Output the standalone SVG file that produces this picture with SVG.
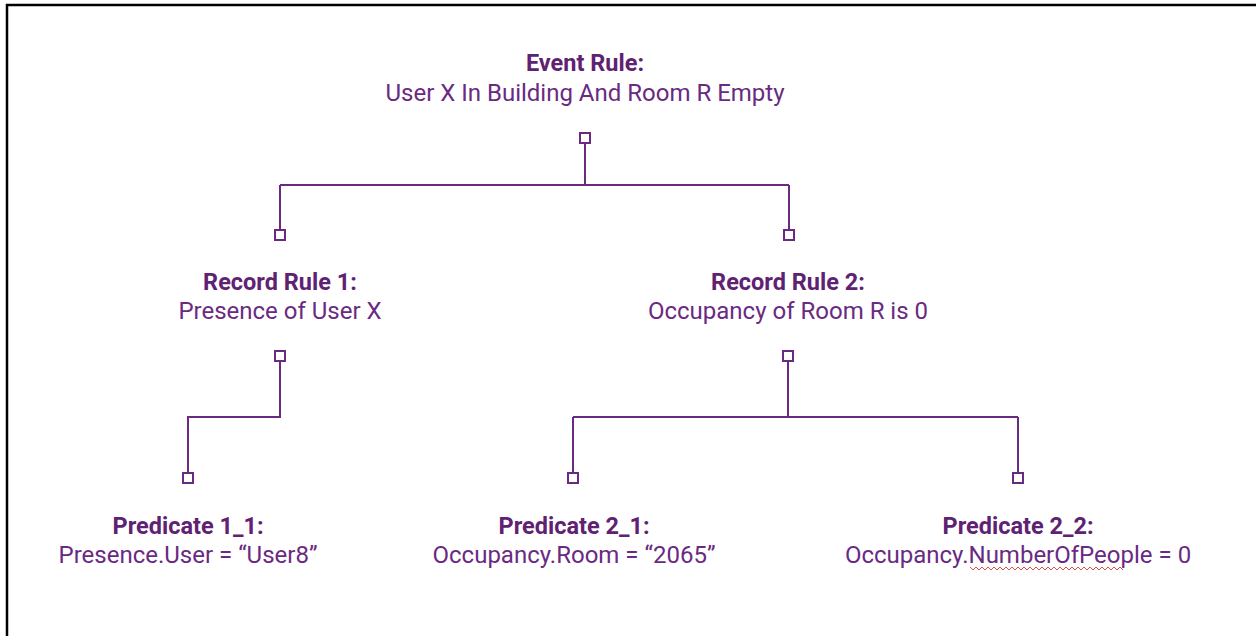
<svg xmlns="http://www.w3.org/2000/svg" width="1256" height="636" viewBox="0 0 1256 636">
<style>
.t{font-family:Roboto,"Liberation Sans",sans-serif;font-size:24px;fill:#6a2a82;text-anchor:middle}
.b{font-weight:bold;fill:#5f2272;font-size:23.5px}
.c{fill:none;stroke:#6a2a82;stroke-width:2}
.p{fill:#fff;stroke:#6a2a82;stroke-width:2}
</style>
<rect width="1256" height="636" fill="#fff"/>
<path d="M7 636V5H1256" fill="none" stroke="#000" stroke-width="2.5"/>
<g id="connectors">
<path class="c" d="M585 143V185M280 185H789M280 185V230M789 185V230"/>
<path class="c" d="M280 361V417H188V473"/>
<path class="c" d="M788 361V417M573 417H1018M573 417V473M1018 417V473"/>
</g>
<g id="event-rule">
<text class="t b" x="585" y="71">Event Rule:</text>
<text class="t" x="585" y="101">User X In Building And Room R Empty</text>
<rect class="p" x="580" y="133" width="10" height="10"/>
</g>
<g id="record-rule-1">
<rect class="p" x="275" y="230" width="10" height="10"/>
<text class="t b" x="280" y="290">Record Rule 1:</text>
<text class="t" x="280" y="319">Presence of User X</text>
<rect class="p" x="275" y="351" width="10" height="10"/>
</g>
<g id="record-rule-2">
<rect class="p" x="784" y="230" width="10" height="10"/>
<text class="t b" x="788" y="290">Record Rule 2:</text>
<text class="t" x="788" y="319">Occupancy of Room R is 0</text>
<rect class="p" x="783" y="351" width="10" height="10"/>
</g>
<g id="predicate-1-1">
<rect class="p" x="183" y="473" width="10" height="10"/>
<text class="t b" x="188" y="534">Predicate 1_1:</text>
<text class="t" x="188" y="563">Presence.User = “User8”</text>
</g>
<g id="predicate-2-1">
<rect class="p" x="568" y="473" width="10" height="10"/>
<text class="t b" x="574" y="534">Predicate 2_1:</text>
<text class="t" x="574" y="563">Occupancy.Room = “2065”</text>
</g>
<g id="predicate-2-2">
<rect class="p" x="1013" y="473" width="10" height="10"/>
<text class="t b" x="1018" y="534">Predicate 2_2:</text>
<text class="t" x="1018" y="563">Occupancy.NumberOfPeople = 0</text>
<path d="M970 567l3 3 3-3 3 3 3-3 3 3 3-3 3 3 3-3 3 3 3-3 3 3 3-3 3 3 3-3 3 3 3-3 3 3 3-3 3 3 3-3 3 3 3-3 3 3 3-3 3 3 3-3 3 3 3-3 3 3 3-3 3 3 3-3 3 3 3-3 3 3 3-3 3 3 3-3 3 3 3-3 3 3 3-3 3 3 3-3 3 3 3-3 3 3 3-3 3 3 3-3 3 3" fill="none" stroke="#e0504a" stroke-width="1"/>
</g>
</svg>
